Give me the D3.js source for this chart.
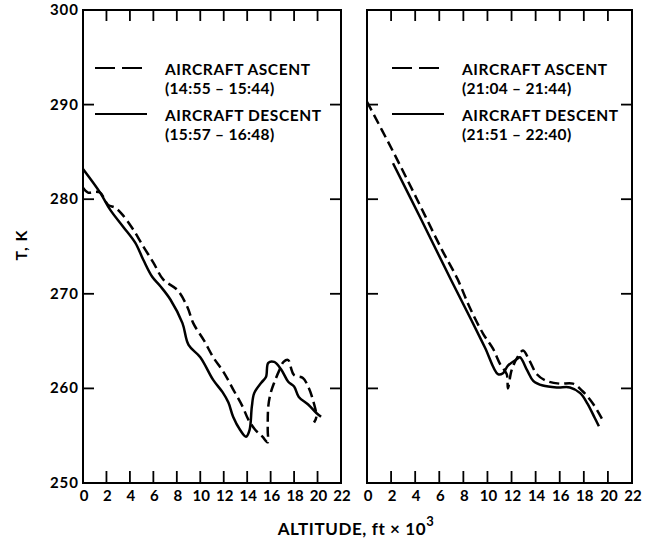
<!DOCTYPE html>
<html>
<head>
<meta charset="utf-8">
<script src="https://cdn.jsdelivr.net/npm/d3@7/dist/d3.min.js"></script>
<style>
  html, body { margin: 0; padding: 0; background: #fff; }
  svg text { font-family: "Lato", "DejaVu Sans", sans-serif; font-weight: 700; fill: #000; }
</style>
</head>
<body>
<svg id="chart" width="646" height="542"></svg>
<script>
// Temperature profiles (K) against altitude (thousands of ft)
const altTicks = [0, 2, 4, 6, 8, 10, 12, 14, 16, 18, 20, 22];
const tempTicks = [250, 260, 270, 280, 290, 300];

// Left panel: afternoon flight
const leftAscentAlt = [0, 0.43, 1.03, 1.46, 2.14, 2.74, 3.34, 4.28, 5.14, 6.0, 6.85, 8.05, 8.9, 9.4, 10.3, 11.1, 12.0, 12.8, 13.6, 14.1, 14.7, 15.3, 15.75, 15.75, 15.8, 16.0, 16.3, 16.7, 17.1, 17.5, 17.7, 18.0, 18.75, 19.2, 19.6, 19.9, 19.7];
const leftAscentT   = [281.2, 280.7, 280.8, 280.7, 279.4, 279.1, 278.4, 276.8, 275.0, 273.3, 271.5, 270.4, 268.6, 266.9, 265.1, 263.3, 261.7, 259.9, 258.1, 256.7, 255.6, 254.9, 254.3, 255.6, 258.1, 259.5, 260.6, 261.8, 262.8, 263.0, 262.3, 261.4, 261.1, 260.2, 258.8, 257.0, 256.4];
const leftDescentAlt = [0, 1.46, 2.31, 3.42, 4.45, 5.14, 5.9, 6.6, 7.45, 8.48, 9.0, 10.0, 11.1, 11.9, 12.4, 12.8, 13.4, 13.9, 14.2, 14.4, 14.6, 15.2, 15.6, 15.8, 16.3, 16.9, 17.5, 18.0, 18.4, 19.2, 19.9, 20.3];
const leftDescentT   = [283.2, 280.7, 278.9, 277.1, 275.4, 273.6, 271.8, 270.8, 269.4, 266.9, 264.6, 263.3, 260.9, 259.6, 258.5, 257.0, 255.6, 254.9, 255.6, 258.1, 259.5, 260.6, 261.2, 262.7, 262.8, 262.0, 260.7, 260.2, 259.1, 258.3, 257.4, 257.0];

// Right panel: evening flight
const rightAscentAlt = [0, 2.1, 4.15, 6.2, 7.5, 8.55, 9.63, 10.46, 11.04, 11.6, 11.7, 12.0, 12.45, 12.95, 13.5, 14.1, 14.9, 16.0, 17.1, 17.9, 18.75, 19.5];
const rightAscentT   = [290.3, 285.2, 280.0, 274.7, 271.6, 268.5, 265.8, 264.2, 262.6, 261.5, 260.0, 261.9, 263.2, 264.0, 262.9, 261.5, 260.8, 260.5, 260.5, 259.7, 258.4, 256.8];
const rightDescentAlt = [2.16, 4.52, 7.0, 8.67, 9.8, 10.87, 11.29, 11.7, 12.45, 12.7, 13.3, 13.8, 14.6, 15.8, 16.85, 17.7, 18.3, 18.9, 19.25];
const rightDescentT   = [283.8, 277.8, 271.4, 267.2, 264.3, 261.5, 261.6, 262.4, 263.1, 263.3, 261.9, 260.8, 260.3, 260.1, 260.1, 259.5, 258.4, 256.9, 256.0];

const leftLegend = ["AIRCRAFT ASCENT", "(14:55 \u2013 15:44)", "AIRCRAFT DESCENT", "(15:57 \u2013 16:48)"];
const rightLegend = ["AIRCRAFT ASCENT", "(21:04 \u2013 21:44)", "AIRCRAFT DESCENT", "(21:51 \u2013 22:40)"];

const svg = d3.select("#chart");
const plotTop = 10, plotBottom = 483;
const y = d3.scaleLinear().domain([250, 300]).range([plotBottom, plotTop]);

function drawPanel(x0, x1, series, legend, showYLabels, legendX) {
  const x = d3.scaleLinear().domain([0, 22]).range([x0, x1]);
  const g = svg.append("g");

  // frame
  g.append("rect")
    .attr("x", x0).attr("y", plotTop)
    .attr("width", x1 - x0).attr("height", plotBottom - plotTop)
    .attr("fill", "none").attr("stroke", "#000").attr("stroke-width", 2);

  // inward ticks along bottom and top
  const inner = altTicks.slice(1, -1);
  g.selectAll(".bt").data(inner).join("line")
    .attr("x1", d => x(d)).attr("x2", d => x(d))
    .attr("y1", plotBottom).attr("y2", plotBottom - 12)
    .attr("stroke", "#000").attr("stroke-width", 1.8);
  g.selectAll(".tt").data(inner).join("line")
    .attr("x1", d => x(d)).attr("x2", d => x(d))
    .attr("y1", plotTop).attr("y2", plotTop + 11)
    .attr("stroke", "#000").attr("stroke-width", 1.8);

  // inward ticks along both sides
  const innerT = tempTicks.slice(1, -1);
  g.selectAll(".lt").data(innerT).join("line")
    .attr("x1", x0).attr("x2", x0 + 11)
    .attr("y1", d => y(d)).attr("y2", d => y(d))
    .attr("stroke", "#000").attr("stroke-width", 1.8);
  g.selectAll(".rt").data(innerT).join("line")
    .attr("x1", x1).attr("x2", x1 - 11)
    .attr("y1", d => y(d)).attr("y2", d => y(d))
    .attr("stroke", "#000").attr("stroke-width", 1.8);

  // x tick labels
  g.selectAll(".xl").data(altTicks).join("text")
    .attr("x", d => x(d) + 1).attr("y", plotBottom + 18)
    .attr("text-anchor", "middle")
    .attr("font-size", 15)
    .text(d => d);

  if (showYLabels) {
    g.selectAll(".yl").data(tempTicks).join("text")
      .attr("x", x0 - 4).attr("y", d => y(d) + 5)
      .attr("text-anchor", "end")
      .attr("font-size", 15).attr("letter-spacing", 1)
      .text(d => d);
  }

  // profiles
  const line = d3.line()
    .x(d => x(d[0])).y(d => y(d[1]))
    .curve(d3.curveCatmullRom.alpha(0.5));
  series.forEach(s => {
    g.append("path")
      .datum(d3.zip(s.alt, s.t))
      .attr("d", line)
      .attr("fill", "none").attr("stroke", "#000")
      .attr("stroke-width", 2.5)
      .attr("stroke-linejoin", "round")
      .attr("stroke-dasharray", s.dash ? "10,5" : null);
  });

  // legend
  const lx = legendX;
  const rows = [{dash: true, y: 68}, {dash: false, y: 114}];
  rows.forEach((r, i) => {
    g.append("line")
      .attr("x1", lx).attr("x2", lx + 52)
      .attr("y1", r.y).attr("y2", r.y)
      .attr("stroke", "#000").attr("stroke-width", 2.2)
      .attr("stroke-dasharray", r.dash ? "20,7" : null);
    g.append("text")
      .attr("x", lx + 70).attr("y", r.y + 7)
      .attr("font-size", 15.5).attr("letter-spacing", 0.6)
      .text(legend[i * 2]);
    g.append("text")
      .attr("x", lx + 70).attr("y", r.y + 26)
      .attr("font-size", 15.5).attr("letter-spacing", 0.3)
      .text(legend[i * 2 + 1]);
  });
}

drawPanel(83, 341, [
  {alt: leftAscentAlt, t: leftAscentT, dash: true},
  {alt: leftDescentAlt, t: leftDescentT, dash: false}
], leftLegend, true, 95);

drawPanel(367, 632, [
  {alt: rightAscentAlt, t: rightAscentT, dash: true},
  {alt: rightDescentAlt, t: rightDescentT, dash: false}
], rightLegend, false, 392);

// axis titles
svg.append("text")
  .attr("transform", "translate(27,245) rotate(-90)")
  .attr("text-anchor", "middle")
  .attr("font-size", 16).attr("letter-spacing", 1)
  .text("T, K");

const xt = svg.append("text")
  .attr("x", 356).attr("y", 535)
  .attr("text-anchor", "middle")
  .attr("font-size", 17).attr("letter-spacing", 0.6);
xt.append("tspan").text("ALTITUDE, ft \u00d7 10");
xt.append("tspan").attr("dy", -9).attr("font-size", 13).text("3");
</script>
</body>
</html>
